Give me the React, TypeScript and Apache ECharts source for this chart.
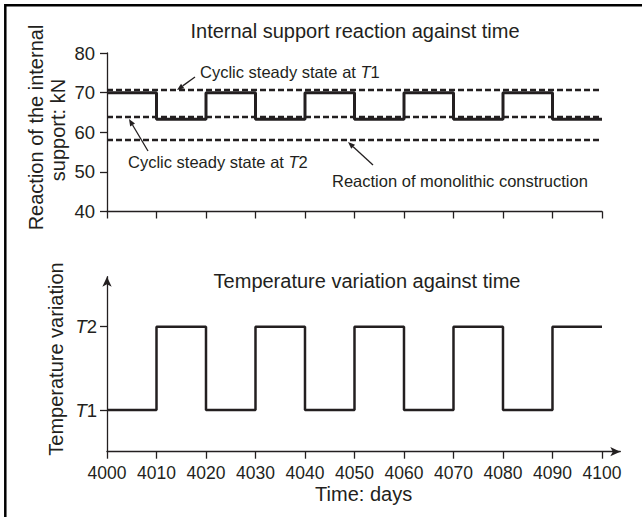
import React, { useEffect, useRef } from "react";
import * as echarts from "echarts";

// ---- Data ----
const days = [4000, 4010, 4020, 4030, 4040, 4050, 4060, 4070, 4080, 4090, 4100];
const reactionKN = [70, 63.3, 70, 63.3, 70, 63.3, 70, 63.3, 70, 63.3, 63.3];
const temperatureLevel = [1, 2, 1, 2, 1, 2, 1, 2, 1, 2, 2];
const temperatureNames = ["T1", "T2"];
const cyclicSteadyT1 = 70.6;
const cyclicSteadyT2 = 63.8;
const monolithicReaction = 58.2;
const dayTicks = [4000, 4010, 4020, 4030, 4040, 4050, 4060, 4070, 4080, 4090, 4100];
const reactionTicks = [40, 50, 60, 70, 80];

const FONT = "'Liberation Sans', Arial, Helvetica, sans-serif";
const INK = "#231f20";

function arrow(tail: [number, number], tip: [number, number]) {
  const dx = tip[0] - tail[0];
  const dy = tip[1] - tail[1];
  const len = Math.hypot(dx, dy);
  const ux = dx / len;
  const uy = dy / len;
  const L = 7;
  const w = 2.8;
  const bx = tip[0] - ux * L;
  const by = tip[1] - uy * L;
  const px = -uy;
  const py = ux;
  return [
    {
      type: "line",
      shape: { x1: tail[0], y1: tail[1], x2: bx, y2: by },
      style: { stroke: INK, lineWidth: 1.3 },
      silent: true,
    },
    {
      type: "polygon",
      shape: {
        points: [
          [tip[0], tip[1]],
          [bx + px * w, by + py * w],
          [bx - px * w, by - py * w],
        ],
      },
      style: { fill: INK },
      silent: true,
    },
  ];
}

function annotation(x: number, y: number, pre: string, num: string) {
  return {
    type: "text",
    x,
    y,
    style: {
      text: `${pre}{i|T}${num}`,
      rich: { i: { fontStyle: "italic", fontSize: 16.5, fontFamily: FONT, fill: INK } },
      fontSize: 16.5,
      fontFamily: FONT,
      fill: INK,
      textAlign: "left",
      textVerticalAlign: "middle",
    },
    silent: true,
  };
}

export default function App() {
  const ref = useRef<HTMLDivElement>(null);

  useEffect(() => {
    if (!ref.current) return;
    const chart = echarts.init(ref.current, null, { renderer: "svg" });

    const reactionData = days.map((d, i) => [d, reactionKN[i]]);
    const tempData = days.map((d, i) => [d, temperatureLevel[i]]);

    const option: any = {
      animation: false,
      backgroundColor: "#ffffff",
      textStyle: { fontFamily: FONT, color: INK },
      grid: [
        { left: 107, top: 53, width: 495, height: 158.5 },
        { left: 107, top: 276.7, width: 513.3, height: 175 },
      ],
      xAxis: [
        {
          type: "value",
          gridIndex: 0,
          min: 4000,
          max: 4100,
          interval: 10,
          axisLine: { show: true, onZero: false, lineStyle: { color: INK, width: 1.3 } },
          axisTick: { show: true, inside: false, length: 7, lineStyle: { color: INK, width: 1.3 } },
          axisLabel: { show: false },
          splitLine: { show: false },
        },
        {
          type: "value",
          gridIndex: 1,
          min: 4000,
          max: 4103.7,
          axisLine: {
            show: true,
            onZero: false,
            symbol: ["none", "arrow"],
            symbolSize: [7, 10],
            lineStyle: { color: INK, width: 1.3 },
          },
          axisTick: {
            show: true,
            inside: false,
            length: 7,
            customValues: dayTicks,
            lineStyle: { color: INK, width: 1.3 },
          },
          axisLabel: {
            show: true,
            customValues: dayTicks,
            margin: 12,
            fontSize: 17.5,
            fontFamily: FONT,
            color: INK,
            formatter: (v: number) => String(Math.round(v)),
          },
          splitLine: { show: false },
          name: "Time: days",
          nameLocation: "middle",
          nameGap: 32,
          nameTextStyle: { fontSize: 20, fontFamily: FONT, color: INK },
        },
      ],
      yAxis: [
        {
          type: "value",
          gridIndex: 0,
          min: 40,
          max: 80,
          interval: 10,
          axisLine: { show: true, onZero: false, lineStyle: { color: INK, width: 1.3 } },
          axisTick: { show: true, inside: false, length: 7, lineStyle: { color: INK, width: 1.3 } },
          axisLabel: {
            show: true,
            margin: 12,
            fontSize: 18.5,
            fontFamily: FONT,
            color: INK,
            customValues: reactionTicks,
            formatter: (v: number) => String(Math.round(v)),
          },
          splitLine: { show: false },
        },
        {
          type: "value",
          gridIndex: 1,
          min: 0.5,
          max: 2.6,
          axisLine: {
            show: true,
            onZero: false,
            symbol: ["none", "arrow"],
            symbolSize: [7, 10],
            lineStyle: { color: INK, width: 1.3 },
          },
          axisTick: {
            show: true,
            inside: false,
            length: 7,
            customValues: [1, 2],
            lineStyle: { color: INK, width: 1.3 },
          },
          axisLabel: {
            show: true,
            customValues: [1, 2],
            margin: 10,
            fontSize: 18.5,
            fontFamily: FONT,
            color: INK,
            formatter: (v: number) => {
              const name = temperatureNames[Math.round(v) - 1] || "";
              return `{i|${name.charAt(0)}}${name.slice(1)}`;
            },
            rich: { i: { fontStyle: "italic", fontSize: 18.5, fontFamily: FONT, color: INK } },
          },
          splitLine: { show: false },
        },
      ],
      series: [
        {
          type: "line",
          xAxisIndex: 0,
          yAxisIndex: 0,
          step: "end",
          data: reactionData,
          symbol: "none",
          lineStyle: { color: INK, width: 3 },
          z: 2,
        },
        {
          type: "line",
          xAxisIndex: 0,
          yAxisIndex: 0,
          data: [],
          symbol: "none",
          z: 3,
          markLine: {
            silent: true,
            symbol: "none",
            label: { show: false },
            lineStyle: { color: INK, width: 2.3, type: [6, 3] },
            data: [
              { yAxis: cyclicSteadyT1 },
              { yAxis: cyclicSteadyT2 },
              { yAxis: monolithicReaction },
            ],
          },
        },
        {
          type: "line",
          xAxisIndex: 1,
          yAxisIndex: 1,
          step: "end",
          data: tempData,
          symbol: "none",
          lineStyle: { color: INK, width: 2.5 },
        },
      ],
      graphic: [
        {
          type: "rect",
          shape: { x: 5.3, y: 5.3, width: 700, height: 600 },
          style: { fill: "none", stroke: "#000", lineWidth: 2.5 },
          silent: true,
        },
        {
          type: "text",
          x: 355,
          y: 31.2,
          style: {
            text: "Internal support reaction against time",
            fontSize: 20,
            fontFamily: FONT,
            fill: INK,
            textAlign: "center",
            textVerticalAlign: "middle",
          },
          silent: true,
        },
        {
          type: "text",
          x: 367,
          y: 281.2,
          style: {
            text: "Temperature variation against time",
            fontSize: 20,
            fontFamily: FONT,
            fill: INK,
            textAlign: "center",
            textVerticalAlign: "middle",
          },
          silent: true,
        },
        {
          type: "text",
          x: 36,
          y: 127.5,
          rotation: Math.PI / 2,
          style: {
            text: "Reaction of the internal",
            fontSize: 20,
            fontFamily: FONT,
            fill: INK,
            textAlign: "center",
            textVerticalAlign: "middle",
          },
          silent: true,
        },
        {
          type: "text",
          x: 58,
          y: 130,
          rotation: Math.PI / 2,
          style: {
            text: "support: kN",
            fontSize: 20,
            fontFamily: FONT,
            fill: INK,
            textAlign: "center",
            textVerticalAlign: "middle",
          },
          silent: true,
        },
        {
          type: "text",
          x: 55.5,
          y: 359,
          rotation: Math.PI / 2,
          style: {
            text: "Temperature variation",
            fontSize: 20,
            fontFamily: FONT,
            fill: INK,
            textAlign: "center",
            textVerticalAlign: "middle",
          },
          silent: true,
        },
        annotation(200, 72.3, "Cyclic steady state at ", "1"),
        annotation(128, 162.3, "Cyclic steady state at ", "2"),
        {
          type: "text",
          x: 332,
          y: 181.3,
          style: {
            text: "Reaction of monolithic construction",
            fontSize: 16.5,
            fontFamily: FONT,
            fill: INK,
            textAlign: "left",
            textVerticalAlign: "middle",
          },
          silent: true,
        },
        ...arrow([195, 77], [177, 90]),
        ...arrow([148, 151], [129, 119]),
        ...arrow([373, 165], [348, 142]),
      ],
    };

    chart.setOption(option);
    return () => chart.dispose();
  }, []);

  return (
    <div
      ref={ref}
      style={{ position: "absolute", left: 0, top: 0, width: 642, height: 517 }}
    />
  );
}
